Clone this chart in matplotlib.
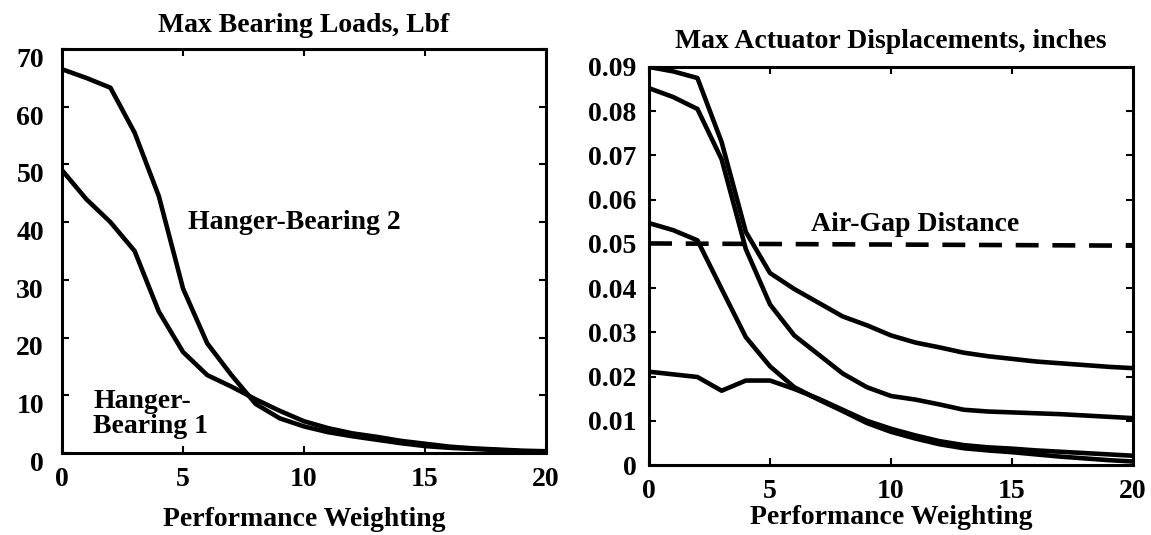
import matplotlib
matplotlib.use("Agg")
import matplotlib.pyplot as plt
import matplotlib.transforms as mtransforms

# Performance weighting (x) shared by all curves
weighting = list(range(0, 21))

# Left panel: max bearing loads, Lbf
hanger_bearing_1 = [49, 44, 40, 35, 24.5, 17.5, 13.5, 11.5, 9.3, 7.3, 5.5,
                    4.3, 3.4, 2.8, 2.1, 1.6, 1.1, 0.8, 0.6, 0.4, 0.3]
hanger_bearing_2 = [66.5, 65, 63.3, 55.5, 44.5, 28.5, 19, 13.5, 8.5, 6.0, 4.6,
                    3.6, 2.9, 2.3, 1.7, 1.2, 0.9, 0.7, 0.5, 0.3, 0.2]

# Right panel: max actuator displacements, inches
act_a = [0.090, 0.089, 0.0875, 0.073, 0.0527, 0.0434, 0.0398, 0.0367, 0.0336, 0.0316, 0.0293,
         0.0277, 0.0266, 0.0254, 0.0246, 0.0240, 0.0234, 0.0230, 0.0226, 0.0222, 0.0219]
act_b = [0.0852, 0.0832, 0.0805, 0.0691, 0.0488, 0.0363, 0.0293, 0.0250, 0.0207, 0.0176, 0.0156,
         0.0148, 0.0137, 0.0125, 0.0121, 0.0119, 0.0117, 0.0115, 0.0112, 0.0109, 0.0106]
act_c = [0.0547, 0.0531, 0.0508, 0.0398, 0.0289, 0.0223, 0.0176, 0.0148, 0.0122, 0.0095, 0.0075,
         0.0060, 0.0047, 0.0038, 0.0033, 0.0029, 0.0024, 0.0019, 0.0015, 0.0011, 0.0008]
act_d = [0.0211, 0.0205, 0.0199, 0.0168, 0.0191, 0.0191, 0.0172, 0.0150, 0.0125, 0.0100, 0.0082,
         0.0067, 0.0054, 0.0045, 0.0040, 0.0037, 0.0033, 0.0030, 0.0027, 0.0024, 0.0021]

# Air-gap reference line
gap_x = [0, 20]
gap_y = [0.0501, 0.0496]

left_yticks = [0, 10, 20, 30, 40, 50, 60, 70]
right_yticks = [0, 0.01, 0.02, 0.03, 0.04, 0.05, 0.06, 0.07, 0.08, 0.09]
right_yticklabels = ["0", "0.01", "0.02", "0.03", "0.04", "0.05", "0.06", "0.07", "0.08", "0.09"]
xticks = [0, 5, 10, 15, 20]

plt.rcParams["font.family"] = ["Liberation Serif", "DejaVu Serif"]
plt.rcParams["font.weight"] = "bold"

FS = 20
LW = 3.3

fig = plt.figure(figsize=(11.51, 5.35), dpi=100)
ax1 = fig.add_axes([0.0539, 0.1533, 0.4205, 0.755])
ax2 = fig.add_axes([0.5639, 0.1308, 0.4205, 0.744])

# --- left panel
ax1.plot(weighting, hanger_bearing_2, color="black", lw=LW, solid_joinstyle="round")
ax1.plot(weighting, hanger_bearing_1, color="black", lw=LW, solid_joinstyle="round")
ax1.set_xlim(0, 20)
ax1.set_ylim(0, 70)
ax1.set_yticks(left_yticks)
ax1.set_title("Max Bearing Loads, Lbf", fontsize=FS, fontweight="bold", pad=12)
ax1.text(5.2, 40, "Hanger-Bearing 2", fontsize=FS, fontweight="bold", va="center")
ax1.text(1.3, 6.8, "Hanger-\nBearing 1", fontsize=FS, fontweight="bold", va="center",
         linespacing=1.0)
ax1.set_xlabel("Performance Weighting", fontsize=FS, fontweight="bold", labelpad=11)

# --- right panel
ax2.plot(weighting, act_a, color="black", lw=LW, solid_joinstyle="round")
ax2.plot(weighting, act_b, color="black", lw=LW, solid_joinstyle="round")
ax2.plot(weighting, act_c, color="black", lw=LW, solid_joinstyle="round")
ax2.plot(weighting, act_d, color="black", lw=LW, solid_joinstyle="round")
ax2.plot(gap_x, gap_y, color="black", lw=LW, dashes=(5, 3))
ax2.set_xlim(0, 20)
ax2.set_ylim(0, 0.09)
ax2.set_yticks(right_yticks)
ax2.set_yticklabels(right_yticklabels)
ax2.set_title("Max Actuator Displacements, inches", fontsize=FS, fontweight="bold", pad=14)
ax2.text(6.7, 0.0543, "Air-Gap Distance", fontsize=FS, fontweight="bold", va="center")
ax2.set_xlabel("Performance Weighting", fontsize=FS, fontweight="bold", labelpad=1)

for ax in (ax1, ax2):
    ax.set_xticks(xticks)
    ax.tick_params(direction="in", length=5, width=1.5, top=True, right=True,
                   labelsize=FS)
    for s in ax.spines.values():
        s.set_linewidth(2.2)

ax1.tick_params(axis="x", pad=10)
ax1.tick_params(axis="y", pad=13)
ax2.tick_params(axis="x", pad=10)
ax2.tick_params(axis="y", pad=9)

# scanned original has y labels sitting a bit low on the left panel
shift = mtransforms.ScaledTranslation(0, -6 / 72, fig.dpi_scale_trans)
for lab in ax1.get_yticklabels():
    lab.set_transform(lab.get_transform() + shift)

fig.savefig("out.png", dpi=100, facecolor="white")
